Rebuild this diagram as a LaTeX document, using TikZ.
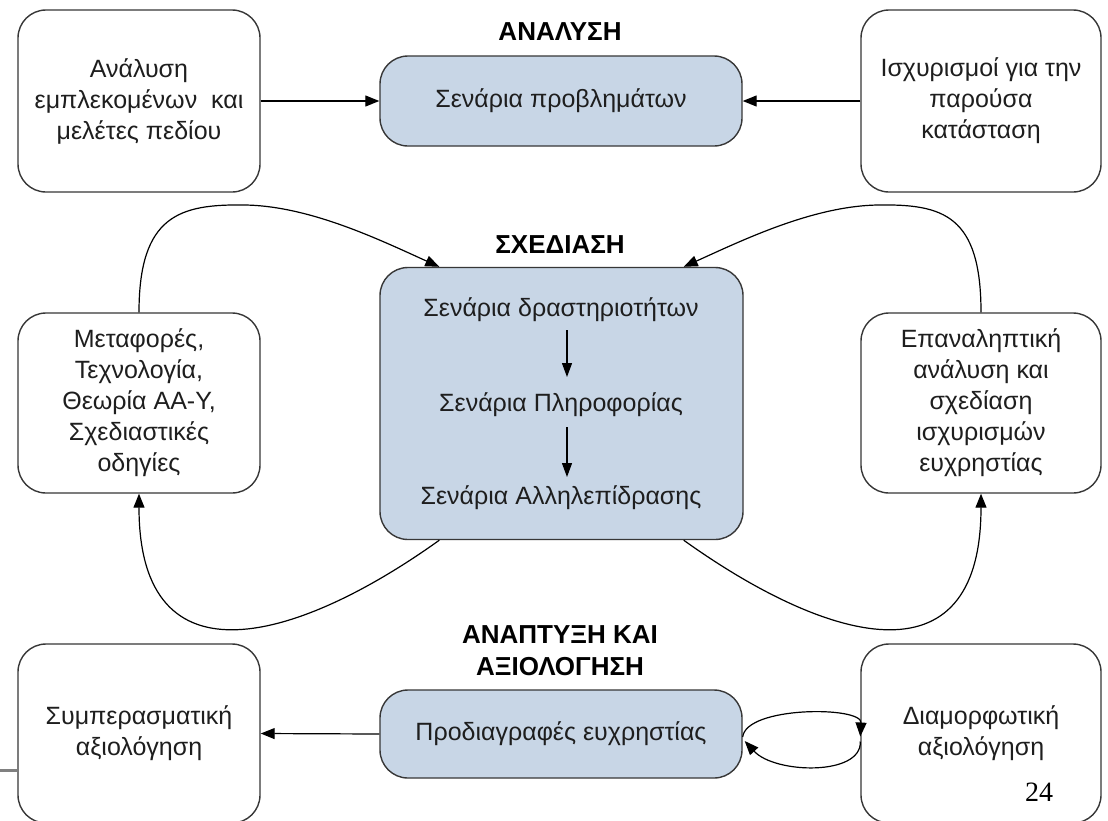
\documentclass[tikz,border=0pt]{standalone}
\usepackage{fontspec}
\setmainfont{Liberation Sans}
\newfontfamily\pagenumfont{Liberation Serif}
\usetikzlibrary{arrows.meta,calc}
\definecolor{boxblue}{RGB}{200,214,230}
\definecolor{edgegray}{RGB}{55,55,55}
\definecolor{textgray}{RGB}{30,30,30}
\begin{document}
\begin{tikzpicture}[x=1pt,y=-1pt,
  box/.style={draw=edgegray, line width=1.4pt, rounded corners=28pt, fill=white,
    inner sep=0pt, align=center, text=textgray, font=\fontsize{25}{31}\selectfont},
  sidebox/.style={box, minimum width=242pt, minimum height=182pt},
  bluebox/.style={box, fill=boxblue, minimum width=362pt},
  inlabel/.style={inner sep=0pt, text=textgray, font=\fontsize{25}{31}\selectfont},
  heading/.style={inner sep=0pt, align=center, text=black,
    font=\bfseries\fontsize{26}{32}\selectfont},
  arr/.style={-{Triangle[length=14pt,width=11pt]}, line width=1.2pt, black},
  arrsmall/.style={-{Triangle[length=14pt,width=10pt]}, line width=1.2pt, black}
]
\useasboundingbox (0,0) rectangle (1108,820);
\fill[white] (0,0) rectangle (1108,820);

% phase headings
\node[heading] (hanal) at (560,32) {ΑΝΑΛΥΣΗ};
\node[heading] (hdes) at (560,245) {ΣΧΕΔΙΑΣΗ};
\node[heading] (hdev) at (560,651) {ΑΝΑΠΤΥΞΗ ΚΑΙ\\ΑΞΙΟΛΟΓΗΣΗ};

% top row
\node[sidebox] (tl) at (139,101) {Ανάλυση\\εμπλεκομένων\ \ και\\μελέτες πεδίου};
\node[bluebox, minimum height=90pt] (ta) at (561,101) {Σενάρια προβλημάτων};
\node[sidebox, minimum width=240pt] (tr) at (981,101) {Ισχυρισμοί για την\\παρούσα\\κατάσταση};

% middle row
\node[sidebox, minimum height=180pt] (ml) at (139,403)
  {Μεταφορές,\\Τεχνολογία,\\Θεωρία ΑΑ-Υ,\\Σχεδιαστικές\\οδηγίες};
\node[bluebox, minimum width=363pt, minimum height=272pt] (mc) at (561.5,403.5) {};
\node[sidebox, minimum width=240pt, minimum height=180pt] (mr) at (981,403)
  {Επαναληπτική\\ανάλυση και\\σχεδίαση\\ισχυρισμών\\ευχρηστίας};

% scenario chain inside the design box
\node[inlabel] (s1) at (561,310) {Σενάρια δραστηριοτήτων};
\node[inlabel] (s2) at (561,405) {Σενάρια Πληροφορίας};
\node[inlabel] (s3) at (561,498) {Σενάρια Αλληλεπίδρασης};
\draw[arrsmall] ($(s1.center)+(6,20)$) -- ($(s2.center)+(6,-28)$);
\draw[arrsmall] ($(s2.center)+(6,22)$) -- ($(s3.center)+(6,-21)$);

% bottom row
\node[sidebox, minimum height=179pt] (bl) at (139,733.5) {Συμπερασματική\\αξιολόγηση};
\node[bluebox, minimum height=88pt] (bc) at (561,734) {Προδιαγραφές ευχρηστίας};
\node[sidebox, minimum width=240pt, minimum height=179pt] (br) at (981,733.5)
  {Διαμορφωτική\\αξιολόγηση};

% slide furniture
\coordinate (edge) at (0,770);
\draw[gray, line width=3pt] (edge) -- (edge -| bl.west);
\node[inner sep=0pt, font=\pagenumfont\fontsize{28}{28}\selectfont] (pagenum) at (1039,792) {24};

% analysis inputs
\draw[arr] (tl.east) -- (ta.west);
\draw[arr] (tr.west) -- (ta.east);

% feedback into design
\draw[arr] (ml.north) .. controls (139,215) and (180,204) .. (245,205)
  .. controls (310,206) and (380,240) .. ($(mc.north west)+(60,0)$);
\draw[arr] (mr.north) .. controls (981,215) and (943,204) .. (878,205)
  .. controls (813,206) and (743,240) .. ($(mc.north east)+(-60,0)$);

% design outputs
\draw[arr] ($(mc.south west)+(60,0)$) .. controls (300,640) and (139,690) .. (ml.south);
\draw[arr] ($(mc.south east)+(-60,0)$) .. controls (823,640) and (981,690) .. (mr.south);

% development and evaluation
\draw[arr] (bc.west) -- (bl.east);
\draw[arr] ($(bc.east)+(0,3)$) .. controls (746,706) and (862,706) .. ($(br.west)+(0,3)$);
\draw[arr] ($(br.west)+(0,8)$) .. controls (862,776) and (775,774) .. ($(bc.east)+(2,7)$);
\end{tikzpicture}
\end{document}
